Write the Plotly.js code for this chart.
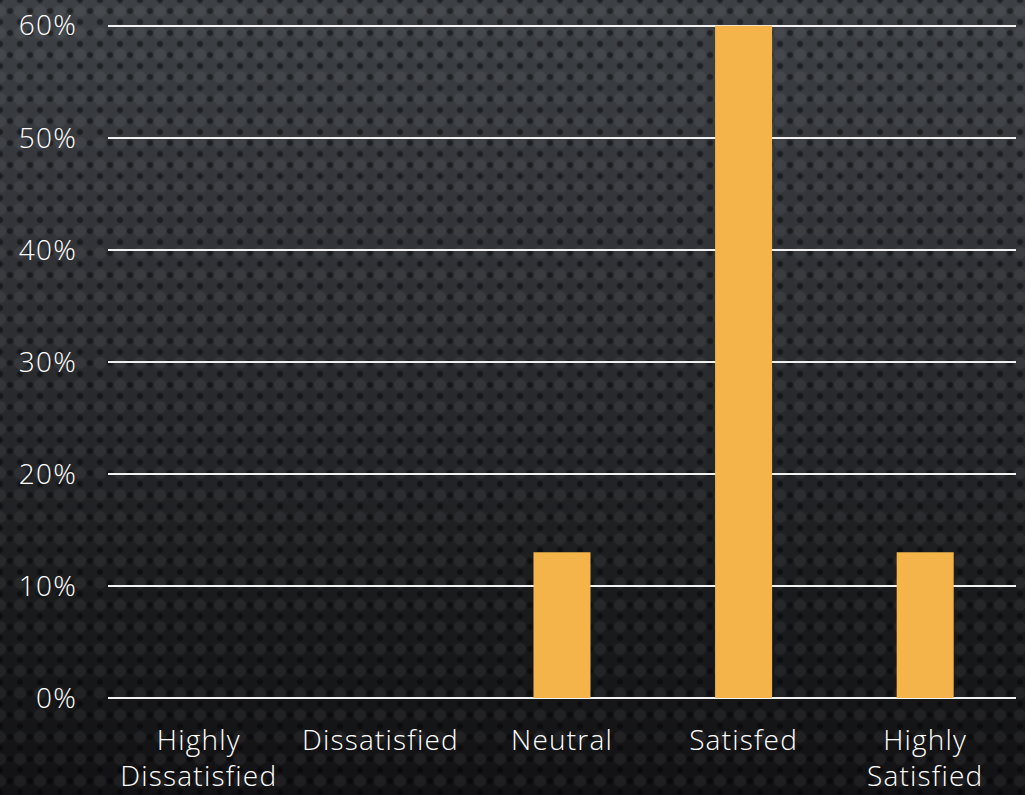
<!DOCTYPE html>
<html>
<head>
<meta charset="utf-8">
<script src="https://cdn.plot.ly/plotly-3.0.1.min.js"></script>
<style>
  html, body { margin: 0; padding: 0; width: 1025px; height: 795px; overflow: hidden; }
  body {
    background-color: #26282b;
    background-image:
      radial-gradient(circle, rgba(0,0,0,0.45) 2px, rgba(0,0,0,0) 4px),
      radial-gradient(circle, rgba(0,0,0,0.45) 2px, rgba(0,0,0,0) 4px),
      radial-gradient(circle, rgba(255,255,255,0.05) 5px, rgba(255,255,255,0) 7px),
      linear-gradient(to bottom, #3d4045 0%, #2d2f33 40%, #1a1b1d 75%, #121214 100%);
    background-size: 20px 22px, 20px 22px, 20px 22px, 100% 100%;
    background-position: 0 0, 10px 11px, 10px 0, 0 0;
  }
  #chart { width: 1025px; height: 795px; }
  .xtick text, .ytick text { letter-spacing: 1.2px; }
</style>
</head>
<body>
<div id="chart"></div>
<script>
const categories = ["Highly<br>Dissatisfied", "Dissatisfied", "Neutral", "Satisfed", "Highly<br>Satisfied"];
const values = [0, 0, 0.13, 0.60, 0.13];
const yTickValues = [0, 0.1, 0.2, 0.3, 0.4, 0.5, 0.6];

const trace = {
  type: "bar",
  x: categories,
  y: values,
  marker: { color: "#f4b44a" },
  hoverinfo: "none"
};

const fontFamily = "'Open Sans', Lato, sans-serif";

const layout = {
  width: 1025,
  height: 795,
  margin: { l: 108, r: 9, t: 24, b: 97 },
  paper_bgcolor: "rgba(0,0,0,0)",
  plot_bgcolor: "rgba(0,0,0,0)",
  bargap: 0.686,
  showlegend: false,
  font: { family: fontFamily, size: 28, color: "#ffffff", weight: 300 },
  xaxis: {
    type: "category",
    showgrid: false,
    showline: false,
    zeroline: false,
    ticks: "",
    ticklabelstandoff: 23,
    tickfont: { family: fontFamily, size: 28, color: "#ffffff", weight: 300 },
    fixedrange: true
  },
  yaxis: {
    range: [0, 0.6015],
    tickvals: yTickValues,
    tickformat: ".0%",
    showgrid: true,
    gridcolor: "#f2f2f2",
    gridwidth: 2,
    zeroline: true,
    zerolinecolor: "#f2f2f2",
    zerolinewidth: 2,
    showline: false,
    ticks: "",
    ticklabelstandoff: 30,
    tickfont: { family: fontFamily, size: 28, color: "#ffffff", weight: 300 },
    fixedrange: true
  }
};

Plotly.newPlot("chart", [trace], layout, { displayModeBar: false, staticPlot: true });
</script>
</body>
</html>
